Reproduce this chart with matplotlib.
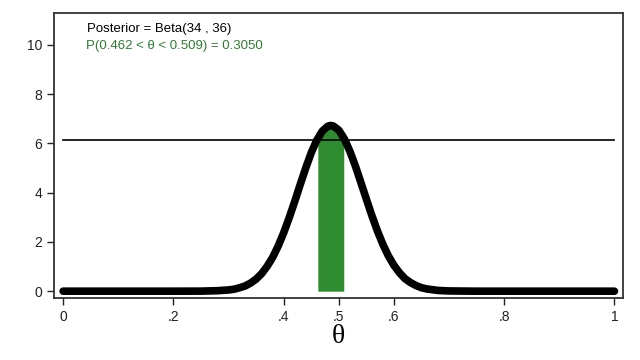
import numpy as np
import matplotlib.pyplot as plt

# Posterior density
theta = [0.0, 0.1, 0.2, 0.25, 0.28, 0.30, 0.31, 0.32, 0.33, 0.34, 0.35, 0.36, 0.37,
         0.38, 0.39, 0.40, 0.41, 0.42, 0.43, 0.44, 0.45, 0.46, 0.47, 0.48, 0.485,
         0.49, 0.50, 0.51, 0.52, 0.53, 0.54, 0.55, 0.56, 0.57, 0.58, 0.59, 0.60,
         0.61, 0.62, 0.63, 0.64, 0.65, 0.66, 0.68, 0.70, 0.75, 0.8, 0.9, 1.0]
density = [0.0, 0.0, 0.0, 0.003, 0.02, 0.05, 0.08, 0.14, 0.21, 0.33, 0.49, 0.71, 1.01,
           1.37, 1.83, 2.37, 2.98, 3.64, 4.33, 5.0, 5.62, 6.13, 6.50, 6.70, 6.73,
           6.71, 6.54, 6.19, 5.69, 5.09, 4.42, 3.74, 3.07, 2.45, 1.90, 1.43, 1.05,
           0.75, 0.51, 0.35, 0.23, 0.14, 0.09, 0.03, 0.01, 0.0, 0.0, 0.0, 0.0]

# shaded interval
band_x = [0.462, 0.47, 0.48, 0.485, 0.49, 0.50, 0.509]
band_y = [6.21, 6.50, 6.70, 6.73, 6.71, 6.54, 6.23]
cutoff = 6.14

xticks = [0, 0.2, 0.4, 0.5, 0.6, 0.8, 1]
xtick_labels = ['0', '.2', '.4', '.5', '.6', '.8', '1']
yticks = [0, 2, 4, 6, 8, 10]

plt.rcParams['font.family'] = ['Liberation Sans', 'DejaVu Sans']

fig = plt.figure(figsize=(6.4, 3.6), dpi=100)
ax = fig.add_axes([0.084, 0.172, 0.889, 0.792])

ax.fill_between(band_x, 0, band_y, color='#2e8b30', linewidth=0, zorder=2)
ax.plot([0, 1], [cutoff, cutoff], color='black', linewidth=1.2, zorder=3)
ax.plot(theta, density, color='black', linewidth=5.5, solid_capstyle='round',
        solid_joinstyle='round', zorder=4)

ax.text(0.044, 10.65, 'Posterior = Beta(34 , 36)', fontsize=9.5, color='black', va='center')
ax.text(0.042, 9.95, 'P(0.462 < \u03b8 < 0.509) = 0.3050', fontsize=9.5,
        color='#2e7d32', va='center')

ax.set_xlim(-0.017, 1.015)
ax.set_ylim(-0.28, 11.3)
ax.set_xticks(xticks)
ax.set_xticklabels(xtick_labels)
ax.set_yticks(yticks)
ax.tick_params(direction='out', length=5, width=1, labelsize=10, colors='#222222')
ax.set_xlabel('\u03b8', fontsize=20, family='Liberation Serif', labelpad=0)
for s in ax.spines.values():
    s.set_linewidth(1.3)
    s.set_color('#333333')

fig.savefig('out.png', dpi=100)
